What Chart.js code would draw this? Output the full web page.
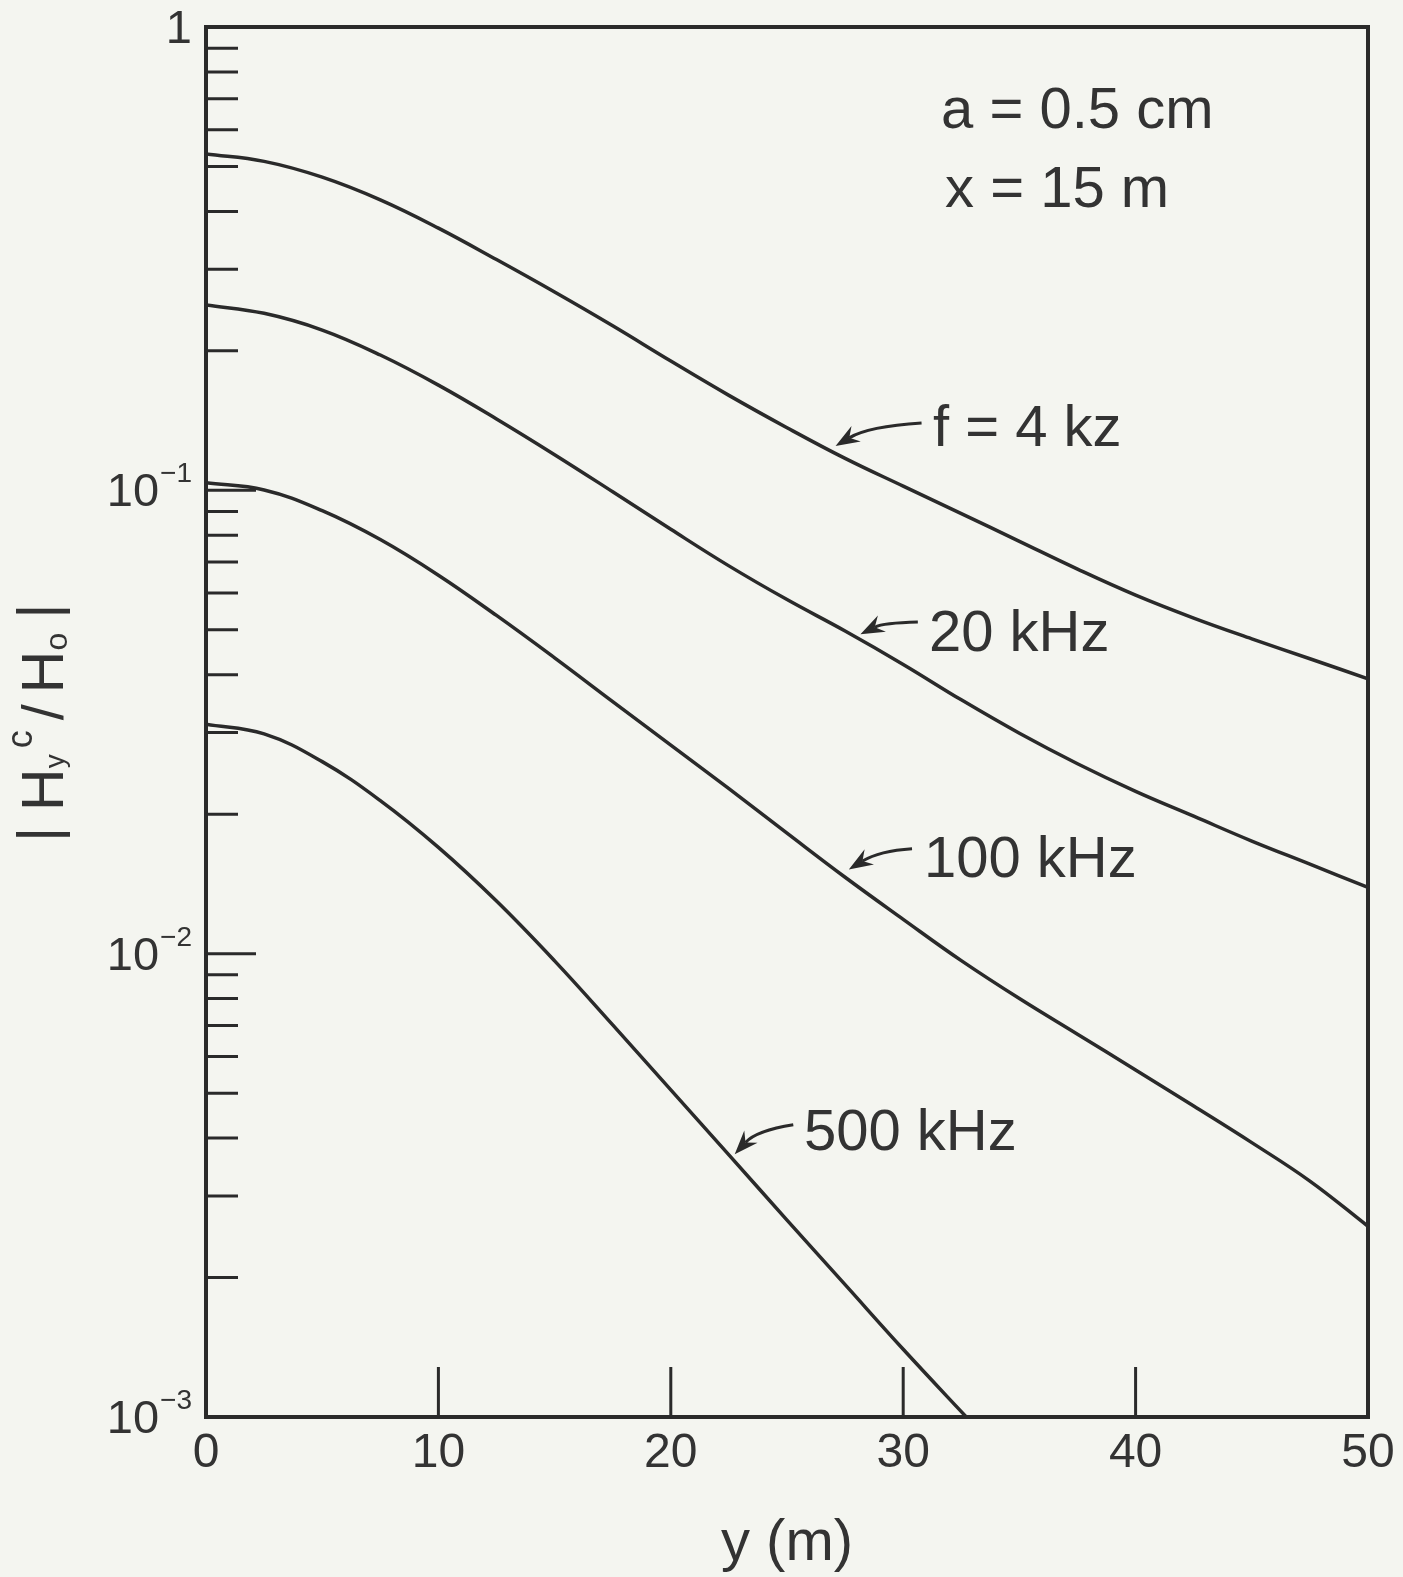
<!DOCTYPE html>
<html>
<head>
<meta charset="utf-8">
<title>|Hy c / Ho| em função de y</title>
<script src="https://cdn.jsdelivr.net/npm/chart.js@4.4.1/dist/chart.umd.min.js"></script>
<style>
    html, body { margin: 0; padding: 0; background: #f4f5f0; }
    canvas { display: block; }
</style>
</head>
<body>
<canvas id="grafico_campo" width="1403" height="1577"></canvas>
<script>
/* Dados: |Hy^c/Ho| em função de y (m), a = 0.5 cm, x = 15 m */
var distancia_y = [0, 2.5, 5, 7.5, 10, 12.5, 15, 17.5, 20, 22.5, 25, 27.5, 30, 32.5, 35, 37.5, 40, 42.5, 45, 47.5, 50];

var campo_4k = [0.5321, 0.5129, 0.4742, 0.4236, 0.3681, 0.3148, 0.2679, 0.2265, 0.1901, 0.1603, 0.1365, 0.1172, 0.1021, 0.0891, 0.0776, 0.0676, 0.0594, 0.0530, 0.0478, 0.0433, 0.0392];
var campo_20k = [0.2512, 0.2410, 0.2218, 0.1959, 0.1687, 0.1426, 0.1194, 0.0993, 0.0824, 0.0687, 0.0581, 0.0497, 0.0421, 0.0353, 0.0299, 0.0257, 0.0224, 0.0198, 0.0175, 0.0156, 0.0139];
var campo_100k = [0.1038, 0.1002, 0.0904, 0.0783, 0.0656, 0.0537, 0.0435, 0.0350, 0.0282, 0.0227, 0.0182, 0.01462, 0.01186, 0.00966, 0.00800, 0.00670, 0.00561, 0.00469, 0.00391, 0.00323, 0.00258];
var campo_500k = [0.03129, 0.02981, 0.02597, 0.02140, 0.01696, 0.01299, 0.00965, 0.00702, 0.00508, 0.00368, 0.00266, 0.00193, 0.00140, 0.001027, 0.000756];

var nomes_curvas = ['f = 4 kz', '20 kHz', '100 kHz', '500 kHz'];

/* marcas dos eixos */
var x_marcas = [0, 10, 20, 30, 40, 50];
var y_principais = [0.001, 0.01, 0.1, 1];
var y_base = ['10', '10', '10', '1'];
var y_expoente = ['\u22123', '\u22122', '\u22121', ''];
var y_secundarias = [];
[0.001, 0.01, 0.1].forEach(function (d) {
    for (var k = 2; k <= 9; k++) y_secundarias.push(k * d);
});

var titulo_x = 'y (m)';
var texto_parametros = ['a = 0.5 cm', 'x = 15 m'];

/* posições dos textos e setas, em unidades dos dados */
var pos_parametros = [[31.63, 0.605], [31.80, 0.4088]];
var pos_nomes = [[31.28, 0.1246], [31.11, 0.04497], [30.89, 0.01464], [25.73, 0.003768]];
var setas = [
    [[30.79, 0.1397], [28.49, 0.1373], [27.09, 0.1246]],
    [[30.63, 0.05195], [29.14, 0.05172], [28.16, 0.04888]],
    [[30.38, 0.01685], [28.98, 0.01668], [27.66, 0.01520]],
    [[25.27, 0.004272], [23.68, 0.004149], [22.75, 0.003690]]
];

var cor_fundo = '#f4f5f0';
var cor_linha = '#2a2a2a';
var cor_texto = '#333333';
var fonte = '"Liberation Sans", Arial, Helvetica, sans-serif';

function pontos(valores) {
    var lista = [];
    for (var i = 0; i < valores.length; i++) {
        lista.push({ x: distancia_y[i], y: valores[i] });
    }
    return lista;
}

function serie(valores) {
    return {
        data: pontos(valores),
        borderColor: cor_linha,
        borderWidth: 3.5,
        pointRadius: 0,
        fill: false,
        tension: 0.4
    };
}

function desenharSeta(ctx, sx, sy, seta) {
    var c = [sx.getPixelForValue(seta[0][0]), sy.getPixelForValue(seta[0][1])];
    var m = [sx.getPixelForValue(seta[1][0]), sy.getPixelForValue(seta[1][1])];
    var p = [sx.getPixelForValue(seta[2][0]), sy.getPixelForValue(seta[2][1])];
    var dx = p[0] - m[0], dy = p[1] - m[1];
    var len = Math.sqrt(dx * dx + dy * dy);
    dx /= len; dy /= len;
    var nx = -dy, ny = dx;
    var fundo = [p[0] - dx * 16, p[1] - dy * 16];

    ctx.lineWidth = 3;
    ctx.beginPath();
    ctx.moveTo(c[0], c[1]);
    ctx.quadraticCurveTo(m[0], m[1], fundo[0], fundo[1]);
    ctx.stroke();

    ctx.beginPath();
    ctx.moveTo(p[0], p[1]);
    ctx.lineTo(p[0] - dx * 24 + nx * 9, p[1] - dy * 24 + ny * 9);
    ctx.lineTo(fundo[0], fundo[1]);
    ctx.lineTo(p[0] - dx * 24 - nx * 9, p[1] - dy * 24 - ny * 9);
    ctx.closePath();
    ctx.fill();
}

function desenharTituloY(ctx) {
    var pecas = [
        { t: '|', tam: 58, dy: -5, gap: 16 },
        { t: 'H', tam: 59, dy: 0, gap: 0 },
        { t: 'y', tam: 28, dy: 1, gap: 6 },
        { t: 'c', tam: 36, dy: -31, gap: 10 },
        { t: '/', tam: 58, dy: 0, gap: 11 },
        { t: 'H', tam: 59, dy: 0, gap: 0 },
        { t: 'o', tam: 32, dy: 4, gap: 14 },
        { t: '|', tam: 58, dy: -5, gap: 0 }
    ];
    ctx.save();
    ctx.translate(63, 842);
    ctx.rotate(-Math.PI / 2);
    ctx.textAlign = 'left';
    ctx.textBaseline = 'alphabetic';
    var px = 0;
    pecas.forEach(function (p) {
        ctx.font = p.tam + 'px ' + fonte;
        ctx.fillText(p.t, px, p.dy);
        px += ctx.measureText(p.t).width + p.gap;
    });
    ctx.restore();
}

const plugin_moldura = {
    id: 'moldura',
    beforeDraw(chart) {
        const ctx = chart.ctx;
        ctx.save();
        ctx.fillStyle = cor_fundo;
        ctx.fillRect(0, 0, chart.width, chart.height);
        ctx.restore();
    },
    afterDatasetsDraw(chart) {
        const ctx = chart.ctx;
        const area = chart.chartArea;
        const sx = chart.scales.x;
        const sy = chart.scales.y;

        ctx.save();
        ctx.strokeStyle = cor_linha;
        ctx.fillStyle = cor_linha;
        ctx.lineCap = 'butt';

        // moldura do gráfico
        ctx.lineWidth = 4;
        ctx.strokeRect(area.left, area.top, area.right - area.left, area.bottom - area.top);

        // marcas do eixo y (para dentro)
        ctx.lineWidth = 3;
        ctx.beginPath();
        y_secundarias.forEach(function (v) {
            var py = sy.getPixelForValue(v);
            ctx.moveTo(area.left, py);
            ctx.lineTo(area.left + 32, py);
        });
        [0.01, 0.1].forEach(function (v) {
            var py = sy.getPixelForValue(v);
            ctx.moveTo(area.left, py);
            ctx.lineTo(area.left + 50, py);
        });
        // marcas do eixo x (para cima)
        x_marcas.slice(1, -1).forEach(function (v) {
            var px = sx.getPixelForValue(v);
            ctx.moveTo(px, area.bottom);
            ctx.lineTo(px, area.bottom - 50);
        });
        ctx.stroke();

        // setas das curvas
        setas.forEach(function (s) { desenharSeta(ctx, sx, sy, s); });

        // rótulos do eixo y
        ctx.fillStyle = cor_texto;
        ctx.textBaseline = 'alphabetic';
        ctx.textAlign = 'right';
        y_principais.forEach(function (v, i) {
            var base = sy.getPixelForValue(v) + 16;
            var direita = 192;
            if (y_expoente[i]) {
                ctx.font = '28px ' + fonte;
                ctx.fillText(y_expoente[i], direita, base - 24);
                direita -= ctx.measureText(y_expoente[i]).width + 1;
            }
            ctx.font = '47px ' + fonte;
            ctx.fillText(y_base[i], direita, base);
        });

        // rótulos do eixo x
        ctx.textAlign = 'center';
        ctx.font = '48px ' + fonte;
        x_marcas.forEach(function (v) {
            ctx.fillText(String(v), sx.getPixelForValue(v), area.bottom + 50);
        });

        // título do eixo x
        ctx.font = '58px ' + fonte;
        ctx.fillText(titulo_x, (area.left + area.right) / 2, area.bottom + 143);

        // textos dentro do gráfico
        ctx.textAlign = 'left';
        ctx.font = '58px ' + fonte;
        texto_parametros.forEach(function (t, i) {
            ctx.fillText(t, sx.getPixelForValue(pos_parametros[i][0]), sy.getPixelForValue(pos_parametros[i][1]));
        });
        nomes_curvas.forEach(function (t, i) {
            ctx.fillText(t, sx.getPixelForValue(pos_nomes[i][0]), sy.getPixelForValue(pos_nomes[i][1]));
        });
        ctx.restore();

        ctx.save();
        ctx.fillStyle = cor_texto;
        desenharTituloY(ctx);
        ctx.restore();
    }
};

const config_grafico_campo = {
    type: 'line',
    data: {
        datasets: [
            serie(campo_4k),
            serie(campo_20k),
            serie(campo_100k),
            serie(campo_500k)
        ]
    },
    options: {
        responsive: false,
        animation: false,
        devicePixelRatio: 1,
        layout: { padding: { left: 206, right: 35, top: 27, bottom: 160 } },
        plugins: {
            legend: { display: false },
            tooltip: { enabled: false }
        },
        scales: {
            x: { type: 'linear', min: 0, max: 50, display: false },
            y: { type: 'logarithmic', min: 0.001, max: 1, display: false }
        }
    },
    plugins: [plugin_moldura]
};

const grafico_campo = new Chart(
    document.getElementById('grafico_campo'),
    config_grafico_campo
);
</script>
</body>
</html>
